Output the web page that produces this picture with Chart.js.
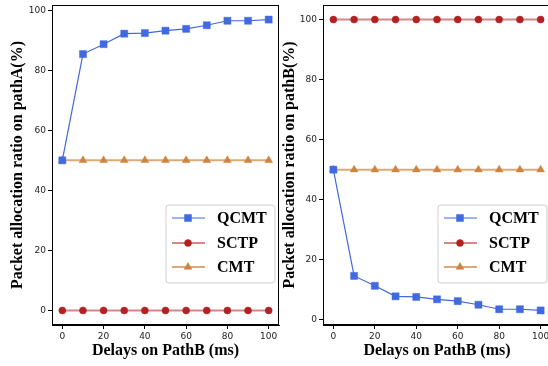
<!DOCTYPE html>
<html><head><meta charset="utf-8">
<script src="https://cdn.jsdelivr.net/npm/chart.js@4/dist/chart.umd.min.js"></script>
<style>
html,body{margin:0;padding:0;background:#fff;overflow:hidden;width:548px;height:366px;position:relative;}
#a{position:absolute;left:0;top:-1px}
#b{position:absolute;left:280px;top:-1px}
</style>
</head><body>
<canvas id="a" width="285" height="367"></canvas>
<canvas id="b" width="277" height="367"></canvas>
<script>
// ---- data ----
const delays = [0, 10, 20, 30, 40, 50, 60, 70, 80, 90, 100];
const qcmtA = [50, 85.4, 88.7, 92.2, 92.4, 93.2, 93.8, 95.0, 96.5, 96.5, 96.9];
const sctpA = [0, 0, 0, 0, 0, 0, 0, 0, 0, 0, 0];
const cmtA  = [50, 50, 50, 50, 50, 50, 50, 50, 50, 50, 50];
const qcmtB = [50, 14.6, 11.3, 7.8, 7.6, 6.8, 6.2, 5.0, 3.5, 3.5, 3.1];
const sctpB = [100, 100, 100, 100, 100, 100, 100, 100, 100, 100, 100];
const cmtB  = [50, 50, 50, 50, 50, 50, 50, 50, 50, 50, 50];
const seriesNames = ['QCMT', 'SCTP', 'CMT'];
const xTickValues = [0, 20, 40, 60, 80, 100];
const yTickValues = [0, 20, 40, 60, 80, 100];
const xTitle = 'Delays on PathB (ms)';
const yTitleA = 'Packet allocation ratio on pathA(%)';
const yTitleB = 'Packet allocation ratio on pathB(%)';

// ---- styles ----
const styles = [
  {borderColor:'#4169E1', borderWidth:1.2, pointStyle:'rect', pointRadius:5, pointBackgroundColor:'#4169E1', pointBorderColor:'rgba(65,105,225,0.45)', pointBorderWidth:1},
  {borderColor:'rgba(178,34,34,0.55)', borderWidth:2, pointStyle:'circle', pointRadius:3.5, pointBackgroundColor:'#B22222', pointBorderColor:'rgba(178,34,34,0.5)', pointBorderWidth:1},
  {borderColor:'rgba(205,133,63,0.7)', borderWidth:2, pointStyle:'triangle', pointRadius:4.5, pointBackgroundColor:'#CD853F', pointBorderColor:'rgba(205,133,63,0.5)', pointBorderWidth:1}
];

const toXY = arr => arr.map((v, i) => ({x: delays[i], y: v}));

const frameLegend = {
  id: 'frameLegend',
  afterDraw(chart) {
    const ctx = chart.ctx, a = chart.chartArea;
    ctx.save();
    ctx.strokeStyle = '#000';
    ctx.lineWidth = 1;
    ctx.strokeRect(Math.round(a.left) + 0.5, Math.round(a.top) + 0.5, Math.round(a.right - a.left) - 1, Math.round(a.bottom - a.top) - 1);
    const w = 109, h = 78;
    const lx = a.right - 4 - w, ly = 206;
    ctx.beginPath();
    const r = 3;
    ctx.moveTo(lx + r, ly);
    ctx.arcTo(lx + w, ly, lx + w, ly + h, r);
    ctx.arcTo(lx + w, ly + h, lx, ly + h, r);
    ctx.arcTo(lx, ly + h, lx, ly, r);
    ctx.arcTo(lx, ly, lx + w, ly, r);
    ctx.closePath();
    ctx.fillStyle = 'rgba(255,255,255,0.85)';
    ctx.fill();
    ctx.strokeStyle = '#d0d0d0';
    ctx.stroke();
    const rows = [13, 38, 62];
    chart.data.datasets.forEach((ds, i) => {
      const y = ly + rows[i];
      ctx.beginPath();
      ctx.strokeStyle = ds.borderColor;
      ctx.lineWidth = ds.borderWidth;
      ctx.moveTo(lx + 6, y);
      ctx.lineTo(lx + 39, y);
      ctx.stroke();
      ctx.fillStyle = ds.pointBackgroundColor;
      ctx.strokeStyle = ds.pointBorderColor;
      ctx.lineWidth = 1;
      Chart.helpers.drawPoint(ctx, {pointStyle: ds.pointStyle, radius: ds.pointRadius, borderWidth: 1, rotation: 0}, lx + 22, y);
      ctx.fillStyle = '#000';
      ctx.font = 'bold 16px "Liberation Serif", "Times New Roman", serif';
      ctx.textBaseline = 'middle';
      ctx.textAlign = 'left';
      ctx.fillText(ds.label, lx + 51, y + 1);
    });
    ctx.restore();
  }
};

function makeChart(id, series, yMin, yMax, yTitle, yAxisWidth, yTitlePad) {
  return new Chart(document.getElementById(id), {
    type: 'line',
    data: {
      datasets: series.map((s, i) => Object.assign({label: seriesNames[i], data: toXY(s), fill: false, tension: 0}, styles[i]))
    },
    options: {
      responsive: false,
      animation: false,
      devicePixelRatio: 1,
      layout: {padding: {top: 5, right: 2, left: 0, bottom: 0}},
      plugins: {legend: {display: false}, tooltip: {enabled: false}},
      scales: {
        x: {
          type: 'linear', min: -5, max: 105,
          afterBuildTicks: ax => { ax.ticks = xTickValues.map(v => ({value: v})); },
          afterFit: s => { s.height = 41; },
          ticks: {font: {family: '"DejaVu Sans"', size: 9}, color: '#222', padding: 2, maxRotation: 0},
          grid: {drawOnChartArea: false, drawTicks: true, tickLength: 4, color: '#000'},
          border: {display: true, color: '#000', width: 1},
          title: {display: true, text: xTitle, color: '#000', font: {family: '"Liberation Serif"', size: 16, weight: 'bold'}, padding: {top: 0, bottom: 6}}
        },
        y: {
          type: 'linear', min: yMin, max: yMax,
          afterBuildTicks: ax => { ax.ticks = yTickValues.map(v => ({value: v})); },
          afterFit: s => { s.width = yAxisWidth; },
          ticks: {font: {family: '"DejaVu Sans"', size: 9, lineHeight: 0.6}, color: '#222', padding: 2},
          grid: {drawOnChartArea: false, drawTicks: true, tickLength: 4, color: '#000'},
          border: {display: true, color: '#000', width: 1},
          title: {display: true, text: yTitle, color: '#000', font: {family: '"Liberation Serif"', size: 16, weight: 'bold'}, padding: {top: yTitlePad, bottom: 0}}
        }
      }
    },
    plugins: [frameLegend]
  });
}

makeChart('a', [qcmtA, sctpA, cmtA], -4.85, 101.75, yTitleA, 52, 8);
makeChart('b', [qcmtB, sctpB, cmtB], -1.75, 104.85, yTitleB, 43, 0);
</script>
</body></html>
